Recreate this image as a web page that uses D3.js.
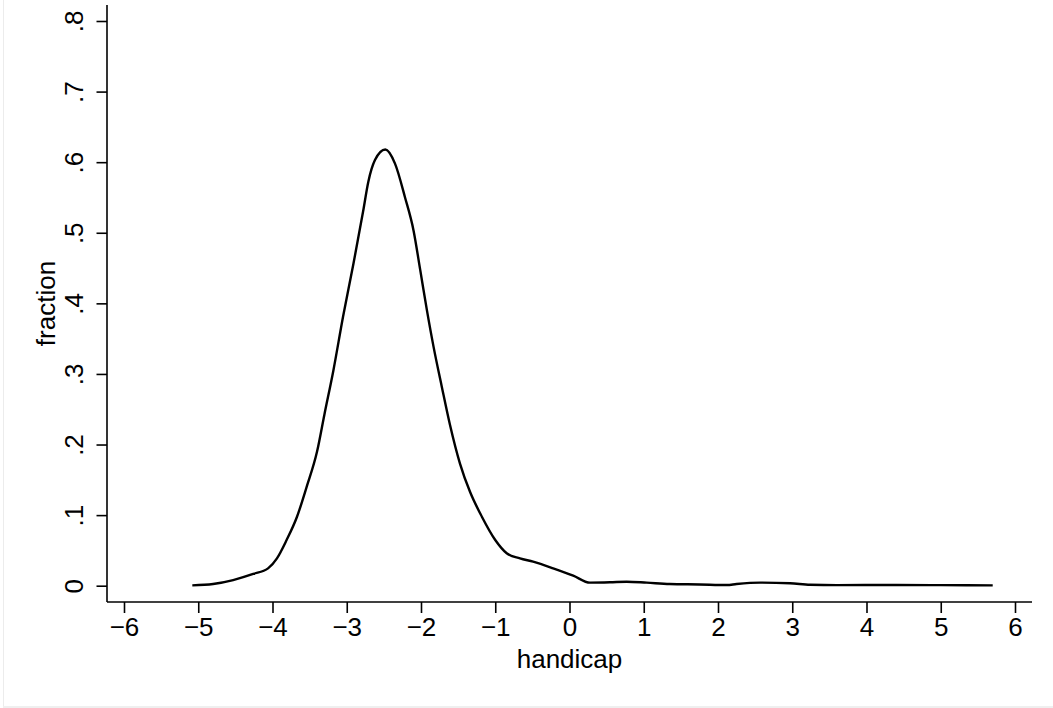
<!DOCTYPE html>
<html>
<head>
<meta charset="utf-8">
<script src="https://cdn.jsdelivr.net/npm/d3@7"></script>
<style>
  body { margin: 0; background: #fff; }
  text { font-family: "Liberation Sans", Arial, Helvetica, sans-serif; }
</style>
</head>
<body>
<div id="chart"></div>
<script>
// density of handicap
const handicap = [
  -5.08, -4.8, -4.53, -4.26, -4.06, -3.94, -3.81, -3.67, -3.54, -3.4,
  -3.3, -3.18, -3.05, -2.91, -2.78, -2.71, -2.62, -2.48, -2.35, -2.215,
  -2.1, -2.01, -1.92, -1.83, -1.72, -1.61, -1.475, -1.34, -1.18, -1.0,
  -0.846, -0.667, -0.49, -0.22, 0.05, 0.276, 0.545, 0.77, 1.04, 1.35,
  1.75, 2.12, 2.25, 2.57, 2.97, 3.24, 3.6, 4.36, 5.0, 5.7
];
const fraction = [
  0.0005, 0.0024, 0.008, 0.0166, 0.0246, 0.0388, 0.0647, 0.0977, 0.14, 0.19,
  0.243, 0.305, 0.381, 0.456, 0.53, 0.572, 0.603, 0.618, 0.598, 0.55,
  0.503, 0.447, 0.39, 0.338, 0.282, 0.228, 0.173, 0.133, 0.0977, 0.0647,
  0.046, 0.0388, 0.034, 0.0246, 0.0142, 0.0043, 0.0048, 0.0057, 0.0043, 0.0024,
  0.0018, 0.001, 0.0024, 0.0043, 0.0034, 0.0014, 0.0008, 0.001, 0.0008, 0.0005
];
const xTicks = [-6, -5, -4, -3, -2, -1, 0, 1, 2, 3, 4, 5, 6];
const yTicks = [0, 0.1, 0.2, 0.3, 0.4, 0.5, 0.6, 0.7, 0.8];

const width = 1053;
const height = 708;
const fontSize = 26;

// plot frame (pixel edges of the axes)
const frame = { left: 107, right: 1032, top: 5, bottom: 602 };

const dataset = handicap.map((d, i) => ({ x: d, y: fraction[i] }));

const svg = d3
  .select("#chart")
  .append("svg")
  .attr("width", width)
  .attr("height", height);

// outer border, light gray
svg.append("rect")
  .attr("x", 0).attr("y", 0)
  .attr("width", width).attr("height", height)
  .attr("fill", "#fff");
svg.append("line")
  .attr("x1", 3.5).attr("x2", 3.5)
  .attr("y1", 0).attr("y2", height)
  .attr("stroke", "#ececec").attr("stroke-width", 1);
svg.append("rect")
  .attr("x", 3).attr("y", 706)
  .attr("width", width - 3).attr("height", 2)
  .attr("fill", "#efefef");

// scales
const xScale = d3.scaleLinear().domain([-6, 6]).range([124, 1015]);
const yScale = d3.scaleLinear().domain([0, 0.8]).range([585.7, 21]);

const yFormat = (d) => (d === 0 ? "0" : d3.format(".1f")(d).replace(/^0/, ""));

// x axis
const xAxis = svg
  .append("g")
  .attr("transform", `translate(0, ${frame.bottom})`)
  .call(
    d3.axisBottom(xScale)
      .tickValues(xTicks)
      .tickSize(11)
      .tickSizeOuter(0)
      .tickPadding(5)
  );
xAxis.select(".domain").remove();
xAxis.selectAll(".tick line").attr("stroke", "#000").attr("stroke-width", 1.6);
xAxis.selectAll(".tick text")
  .attr("fill", "#000")
  .style("font-size", fontSize + "px")
  .style("font-family", '"Liberation Sans", Arial, sans-serif');

// y axis
const yAxis = svg
  .append("g")
  .attr("transform", `translate(${frame.left}, 0)`)
  .call(
    d3.axisLeft(yScale)
      .tickValues(yTicks)
      .tickFormat(yFormat)
      .tickSize(10.5)
      .tickSizeOuter(0)
  );
yAxis.select(".domain").remove();
yAxis.selectAll(".tick line").attr("stroke", "#000").attr("stroke-width", 1.6);
yAxis.selectAll(".tick text")
  .attr("fill", "#000")
  .attr("x", 0)
  .attr("dy", 0)
  .attr("text-anchor", "middle")
  .attr("transform", "translate(-24, 0) rotate(-90)")
  .style("font-size", fontSize + "px")
  .style("font-family", '"Liberation Sans", Arial, sans-serif');

// axis lines
svg.append("line")
  .attr("x1", frame.left).attr("x2", frame.right)
  .attr("y1", frame.bottom).attr("y2", frame.bottom)
  .attr("stroke", "#000").attr("stroke-width", 1.6);
svg.append("line")
  .attr("x1", frame.left).attr("x2", frame.left)
  .attr("y1", frame.top).attr("y2", frame.bottom)
  .attr("stroke", "#000").attr("stroke-width", 1.6);

// density line
const line = d3
  .line()
  .x((d) => xScale(d.x))
  .y((d) => yScale(d.y))
  .curve(d3.curveMonotoneX);

svg.append("path")
  .datum(dataset)
  .attr("d", line)
  .attr("fill", "none")
  .attr("stroke", "#000")
  .attr("stroke-width", 2.4)
  .attr("stroke-linejoin", "round");

// axis titles
svg.append("text")
  .attr("x", (frame.left + frame.right) / 2)
  .attr("y", 668)
  .attr("text-anchor", "middle")
  .style("font-size", fontSize + "px")
  .text("handicap");

svg.append("text")
  .attr("transform", `translate(55, ${(frame.top + frame.bottom) / 2}) rotate(-90)`)
  .attr("text-anchor", "middle")
  .style("font-size", fontSize + "px")
  .text("fraction");
</script>
</body>
</html>
